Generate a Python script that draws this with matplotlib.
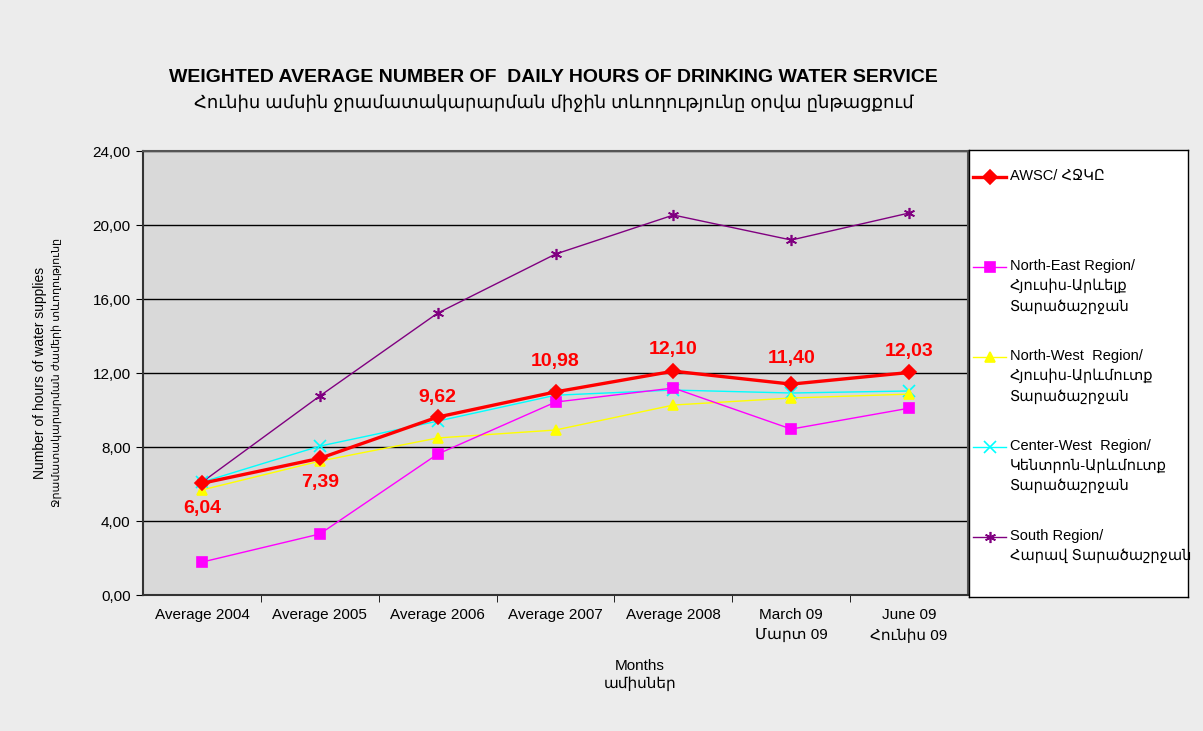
import matplotlib.pyplot as plt
from matplotlib.lines import Line2D

plt.rcParams['font.family'] = ['Liberation Sans', 'DejaVu Sans']

categories = ['Average 2004', 'Average 2005', 'Average 2006', 'Average 2007',
              'Average 2008', 'March 09\nՄարտ 09', 'June 09\nՀունիս 09']
awsc = [6.04, 7.39, 9.62, 10.98, 12.10, 11.40, 12.03]
north_east = [1.78, 3.30, 7.62, 10.43, 11.19, 8.97, 10.10]
north_west = [5.68, 7.24, 8.49, 8.92, 10.27, 10.65, 10.86]
center_west = [6.10, 8.05, 9.40, 10.80, 11.08, 10.92, 11.03]
south = [6.10, 10.76, 15.24, 18.43, 20.54, 19.19, 20.65]
yticks = [0, 4, 8, 12, 16, 20, 24]

series = [
    ('AWSC/ ՀՋԿԸ', awsc, '#ff0000', 'D', 2.4, 7),
    ('North-East Region/\nՀյուսիս-Արևելք\nՏարածաշրջան', north_east, '#ff00ff', 's', 1.0, 7),
    ('North-West  Region/\nՀյուսիս-Արևմուտք\nՏարածաշրջան', north_west, '#ffff00', '^', 1.0, 7),
    ('Center-West  Region/\nԿենտրոն-Արևմուտք\nՏարածաշրջան', center_west, '#00ffff', 'x', 1.0, 8),
    ('South Region/\nՀարավ Տարածաշրջան', south, '#800080', (6, 2, 0), 1.0, 8),
]

fig = plt.figure(figsize=(12.03, 7.31), dpi=100, facecolor='#ececec')
ax = fig.add_axes([0.1189, 0.186, 0.6858, 0.6074])
ax.set_facecolor('#d9d9d9')

x = list(range(len(categories)))
# draw AWSC last so it sits on top
for name, vals, col, mk, lw, ms in reversed(series):
    ax.plot(x, vals, color=col, marker=mk, lw=lw, ms=ms, mec=col, mfc=col,
            mew=1.2, zorder=3 if name.startswith('AWSC') else 2)

# data labels for AWSC (offset of label centre, in pixels)
label_dy = [-25, -24, 20, 30, 22, 26, 21]
for i, v in enumerate(awsc):
    lab = f'{v:.2f}'.replace('.', ',')
    ax.annotate(lab, (i, v), xytext=(0, label_dy[i] * 0.72), textcoords='offset points',
                ha='center', va='center', color='#ff0000', fontsize=14, fontweight='bold')

ax.set_xlim(-0.5, len(categories) - 0.5)
ax.set_ylim(0, 24)
ax.set_yticks(yticks)
ax.set_yticklabels([f'{t:.2f}'.replace('.', ',') for t in yticks], fontsize=11)
ax.yaxis.grid(True, color='black', lw=1.0)
ax.set_axisbelow(True)
ax.set_xticks(x)
ax.set_xticklabels(categories, fontsize=11, linespacing=1.6)
ax.set_xticks([i + 0.5 for i in x[:-1]], minor=True)
ax.tick_params(axis='x', which='major', length=0, pad=9)
ax.tick_params(axis='x', which='minor', length=5, direction='out')
ax.tick_params(axis='y', length=5, direction='out', pad=4)
for s in ['top', 'right']:
    ax.spines[s].set_color('#555555')
    ax.spines[s].set_linewidth(1.5)
for s in ['left', 'bottom']:
    ax.spines[s].set_color('#333333')
    ax.spines[s].set_linewidth(1.5)

fig.text(0.46, 0.894, 'WEIGHTED AVERAGE NUMBER OF  DAILY HOURS OF DRINKING WATER SERVICE',
         ha='center', va='center', fontsize=14, fontweight='bold')
fig.text(0.46, 0.859, 'Հունիս ամսին ջրամատակարարման միջին տևողությունը օրվա ընթացքում',
         ha='center', va='center', fontsize=13)

fig.text(0.033, 0.49, 'Number of hours of water supplies', rotation=90,
         ha='center', va='center', fontsize=10)
fig.text(0.047, 0.49, 'Ջրամատակարարման ժամերի տևողությունը', rotation=90,
         ha='center', va='center', fontsize=8)
fig.text(0.532, 0.077, 'Months\nամիսներ', ha='center', va='center',
         fontsize=11, linespacing=1.3)

# legend box
lax = fig.add_axes([0.8055, 0.1833, 0.182, 0.6115])
lax.set_xlim(0, 219)
lax.set_ylim(447, 0)
lax.set_facecolor('white')
lax.set_xticks([])
lax.set_yticks([])
for s in lax.spines.values():
    s.set_color('black')
    s.set_linewidth(1.0)
for k, (name, vals, col, mk, lw, ms) in enumerate(series):
    yy = 27 + k * 90
    lax.add_line(Line2D([4, 37], [yy, yy], color=col, lw=lw))
    lax.add_line(Line2D([20.5], [yy], color=col, marker=mk, ms=ms, mec=col, mfc=col,
                        mew=1.2, lw=0))
    lax.text(41, yy - 8, name, ha='left', va='top', fontsize=10.5, linespacing=1.5)

fig.savefig('out.png', dpi=100, facecolor=fig.get_facecolor())
